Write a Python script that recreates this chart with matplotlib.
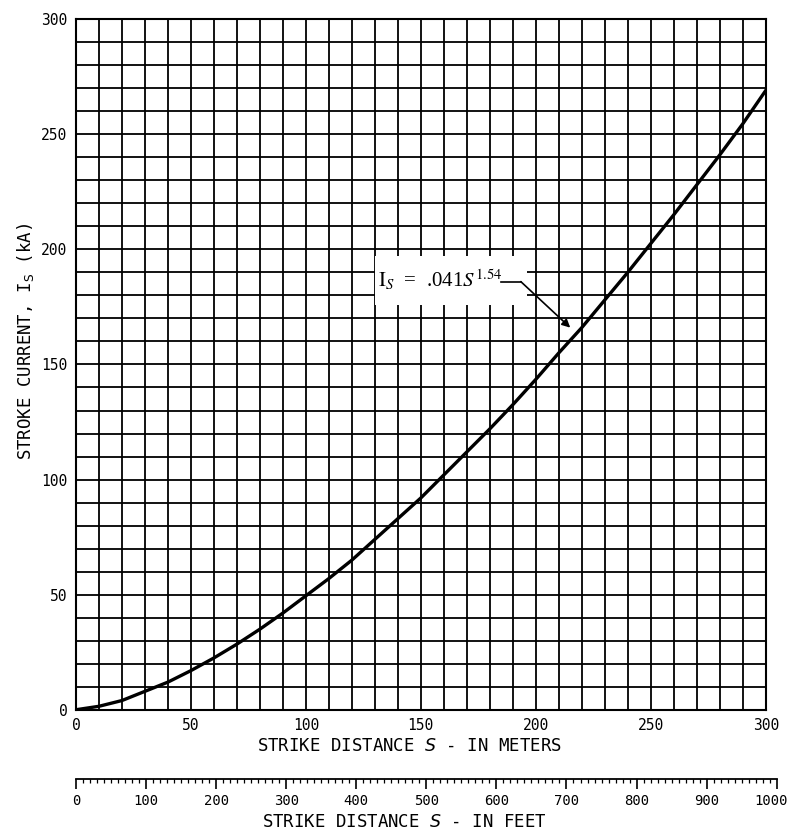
import numpy as np
import matplotlib
matplotlib.use('Agg')
import matplotlib.pyplot as plt
import matplotlib.transforms as mtransforms
from matplotlib.ticker import MultipleLocator
from matplotlib.patches import Rectangle

plt.rcParams['font.family'] = ['DejaVu Sans Mono']
plt.rcParams['mathtext.fontset'] = 'dejavusans'

# strike distance (m) and strike current (kA)
dist_m = [0, 10, 20, 30, 40, 50, 60, 70, 80, 90, 100, 110, 120, 130, 140, 150,
          160, 170, 180, 190, 200, 210, 220, 230, 240, 250, 260, 270, 280, 290, 300]
current_ka = [0, 1.5, 4, 8, 12, 17, 22.5, 28.5, 35, 42, 49.5, 57, 65, 74, 83, 92,
              102, 112, 122, 132.5, 143.5, 155, 166, 178, 190, 202.5, 215, 228, 241, 254.5, 269]

x_ticks = [0, 50, 100, 150, 200, 250, 300]
y_ticks = [0, 50, 100, 150, 200, 250, 300]
ft_ticks = [0, 100, 200, 300, 400, 500, 600, 700, 800, 900, 1000]

fig = plt.figure(figsize=(7.91, 8.35), dpi=100)
L, B, W, H = 0.096, 0.150, 0.872, 0.827
ax = fig.add_axes([L, B, W, H])

ax.plot(dist_m, current_ka, color='black', lw=2.4, zorder=3)
ax.set_xlim(0, 300)
ax.set_ylim(0, 300)
ax.set_xticks(x_ticks)
ax.set_yticks(y_ticks)
ax.xaxis.set_minor_locator(MultipleLocator(10))
ax.yaxis.set_minor_locator(MultipleLocator(10))
ax.grid(which='both', color='black', lw=1.3)
ax.tick_params(which='both', length=0, labelsize=10.5, pad=6)
for s in ax.spines.values():
    s.set_linewidth(1.5)

ax.set_xlabel('STRIKE DISTANCE $S$ - IN METERS', fontsize=12.5, labelpad=3)
ax.xaxis.label.set_x(0.484)
ax.set_ylabel('STROKE CURRENT, I$_\\mathrm{S}$ (kA)', fontsize=12.5, labelpad=4)
ax.yaxis.label.set_y(0.533)

# white patch behind the equation
ax.add_patch(Rectangle((130, 176), 66, 21, facecolor='white', edgecolor='none', zorder=2.5))
ax.text(131.5, 183.5, r'$\mathrm{I}_{S}$  =  .041$S^{1.54}$', fontsize=15,
        math_fontfamily='stix', family='Liberation Serif', ha='left', va='baseline', zorder=4)
ax.plot([185, 193.5], [186, 186], color='black', lw=1.2, zorder=4)
ax.annotate('', xy=(215, 166), xytext=(193.5, 186),
            arrowprops=dict(arrowstyle='-|>', color='black', lw=1.2,
                            mutation_scale=12, shrinkA=0, shrinkB=0), zorder=4)

# feet scale under the chart
axf = fig.add_axes([L, 0.067, W * 304.8 / 300, 0.0001])
axf.set_xlim(0, 1000)
axf.set_ylim(0, 1)
axf.set_yticks([])
axf.set_xticks(ft_ticks)
axf.xaxis.set_minor_locator(MultipleLocator(10))
for side in ['top', 'left', 'right']:
    axf.spines[side].set_visible(False)
axf.spines['bottom'].set_linewidth(1.3)
axf.tick_params(which='major', length=7.5, width=1.2, labelsize=10, pad=3)
axf.tick_params(which='minor', length=3.2, width=0.9)
axf.set_facecolor('none')
axf.set_xlabel('STRIKE DISTANCE $S$ - IN FEET', fontsize=12.5, labelpad=4)
axf.xaxis.label.set_x(0.469)

# keep the last feet label inside the picture
last = axf.get_xticklabels()[-1]
last.set_transform(last.get_transform() +
                   mtransforms.ScaledTranslation(-6 / 100, 0, fig.dpi_scale_trans))

plt.savefig('out.png', dpi=100)
